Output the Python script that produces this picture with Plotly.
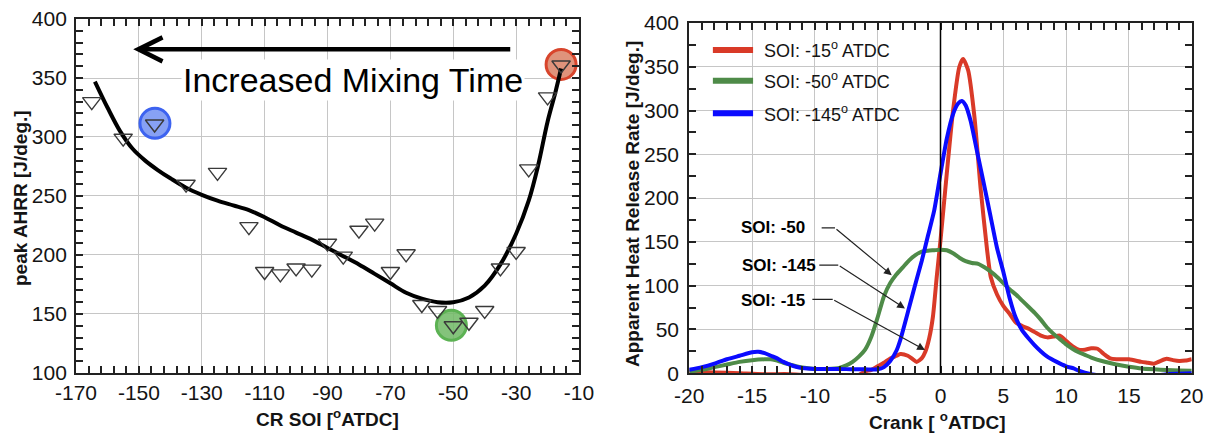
import plotly.graph_objects as go

# ---------------- Left panel data ----------------
soi = [-165, -155, -145, -135, -125, -115, -110, -105, -100, -95, -90, -85, -80,
       -75, -70, -65, -60, -55, -50, -45, -40, -35, -30, -26, -20, -15.7]
peak_ahrr = [330, 299, 311, 260, 270, 224, 186, 184, 189, 188, 210, 199, 221,
             227, 186, 201, 158, 153, 140, 143, 153, 189, 203, 273, 334, 361]

fit_soi = [-164, -160, -156, -152, -148, -144, -140, -135, -130, -125, -120, -115,
           -110, -105, -100, -95, -90, -85, -80, -75, -70, -65, -60, -55, -50,
           -45, -40, -35, -30, -26, -23, -20, -17.5, -15.7]
fit_ahrr = [347, 325, 305, 290, 280, 272, 265, 257, 251, 246, 242, 238,
            232, 225, 219, 213, 206, 199, 192, 184, 176, 168, 163, 160, 160,
            164, 174, 192, 218, 246, 276, 313, 338, 358]

hl_soi = [-144.9, -50.6, -15.7]
hl_ahrr = [311.6, 140.4, 361.5]
hl_fill = ["rgba(95,130,240,0.75)", "rgba(110,185,100,0.85)", "rgba(215,120,90,0.8)"]
hl_line = ["#3d63f0", "#5cb253", "#d8452c"]

left_xticks = [-170, -150, -130, -110, -90, -70, -50, -30, -10]
left_xtick_text = ["-170", "-150", "-130", "-110", "-90", "-70", "-50", "-30", "-10"]
left_yticks = [100, 150, 200, 250, 300, 350, 400]

mixing_text = "Increased Mixing Time"

# ---------------- Right panel data ----------------
series_names = ["SOI: -15<sup>o</sup> ATDC", "SOI: -50<sup>o</sup> ATDC", "SOI: -145<sup>o</sup> ATDC"]
series_colors = ["#d93a28", "#4e8b48", "#0b0bff"]

right_xticks = [-20, -15, -10, -5, 0, 5, 10, 15, 20]
right_xtick_text = ["-20", "-15", "-10", "-5", "0", "5", "10", "15", "20"]
right_yticks = [0, 50, 100, 150, 200, 250, 300, 350, 400]

crank_red = [-20, -18, -16, -14, -12, -11, -10, -9, -8, -7, -6.5, -6, -5.5, -5, -4.5, -4,
             -3.5, -3.2, -2.6, -2.2, -1.9, -1.5, -1.2, -0.9, -0.6, -0.3, 0, 0.5, 1, 1.5,
             1.8, 2.2, 2.7, 3.2, 3.7, 4, 4.5, 5, 5.5, 6, 6.5, 7, 7.5, 8, 8.5, 9, 9.5, 10,
             10.5, 11, 11.5, 12, 12.5, 13, 13.5, 14, 15, 16, 16.5, 17, 17.5, 18, 18.5,
             19, 19.5, 20]
hrr_red = [2, 1, 0, -1, -1, -2, -4, -6, -7, -5, -2, 2, 4, 8, 12, 17,
           20, 22, 20, 16, 13, 17, 25, 40, 65, 110, 152, 228, 300, 350,
           359, 346, 293, 210, 142, 110, 90, 77, 68, 58, 54, 51, 47, 43, 41, 42, 43, 37,
           31, 27, 27, 28.5, 28, 22, 17, 16, 16, 13, 12, 11, 14, 16.5, 15,
           14, 14.5, 16]

crank_green = [-20, -19, -18, -17, -16, -15, -14, -13.5, -13, -12.5, -12, -11.5, -11, -10,
               -9, -8, -7.5, -7, -6.5, -6, -5.5, -5, -4.5, -4, -3.5, -3, -2.5, -2, -1.5,
               -1, -0.5, 0, 0.5, 1, 1.5, 2, 2.5, 3, 3.5, 4, 4.5, 5, 5.5, 6, 6.5, 7, 7.5,
               8, 8.5, 9, 9.5, 10, 10.5, 11, 11.5, 12, 13, 14, 15, 16, 17, 18, 19, 20]
hrr_green = [2, 4, 7, 10, 13, 15, 16, 16, 14.5, 12, 10, 8, 6.5, 5,
             5, 6.5, 9, 13, 19, 27, 42, 64, 88, 103, 113, 121, 129, 135, 139,
             140, 140.5, 141, 140.5, 137, 132, 128, 126, 125, 121, 116, 110, 103, 96, 90, 83, 76, 69,
             61, 52, 45, 39, 33, 28, 24, 21, 18, 13.5, 10, 7.5, 5.5, 4.5, 3.8, 3.2, 3]

crank_blue = [-20, -19, -18, -17, -16, -15, -14.5, -14, -13.5, -13, -12.5, -12, -11.5, -11,
              -10, -9, -8, -7, -6, -5, -4.5, -4, -3.5, -3.2, -2.5, -2, -1.5, -1, -0.5, 0,
              0.5, 1, 1.4, 1.7, 2, 2.4, 2.9, 3.4, 4, 4.5, 5, 5.5, 6, 6.5, 7, 7.5, 8, 8.5,
              9.25, 10, 10.6, 11, 12, 13, 14, 15, 16, 17, 18, 19, 20]
hrr_blue = [4, 7, 11, 16, 20, 24, 24.5, 23, 20, 17, 13, 10, 7.5, 6,
            5, 5, 5, 4.5, 4.5, 4.5, 7, 14, 26, 38, 75, 102, 128, 157, 186, 228,
            268, 296, 308, 311, 306, 288, 254, 220, 178, 143, 116, 86, 63, 49, 40, 32, 25, 19,
            13, 8, 5.5, 3, -1, -3, -5, -6, -5, -3, -1, -0.5, 0]

callout_labels = ["SOI: -50", "SOI: -145", "SOI: -15"]

FONT = "Liberation Sans, Arial, sans-serif"
INK = "#141414"

fig = go.Figure()

# Left panel traces
fig.add_trace(go.Scatter(x=hl_soi, y=hl_ahrr, mode="markers", xaxis="x", yaxis="y",
                         marker=dict(symbol="circle", size=30, color=hl_fill,
                                     line=dict(color=hl_line, width=3)),
                         showlegend=False, hoverinfo="skip"))
fig.add_trace(go.Scatter(x=fit_soi, y=fit_ahrr, mode="lines", xaxis="x", yaxis="y",
                         line=dict(color="black", width=4, shape="spline", smoothing=1.0),
                         showlegend=False))
fig.add_trace(go.Scatter(x=soi, y=peak_ahrr, mode="markers", xaxis="x", yaxis="y",
                         marker=dict(symbol="triangle-down-open", size=16,
                                     color="#3a3a3a", line=dict(color="#3a3a3a", width=1.4)),
                         showlegend=False))

# Right panel traces
for cx, cy, nm, col in [(crank_red, hrr_red, series_names[0], series_colors[0]),
                        (crank_green, hrr_green, series_names[1], series_colors[1]),
                        (crank_blue, hrr_blue, series_names[2], series_colors[2])]:
    fig.add_trace(go.Scatter(x=cx, y=cy, mode="lines", name=nm, xaxis="x2", yaxis="y2",
                             line=dict(color=col, width=4, shape="spline", smoothing=0.6),
                             showlegend=False))

axis_common = dict(showgrid=True, gridcolor="#c6c6c6", gridwidth=1.3, zeroline=False,
                   showline=True, linecolor="#222", linewidth=2, mirror="allticks",
                   ticks="inside", ticklen=7, tickwidth=1.5, tickcolor="#222",
                   automargin=False,
                   tickfont=dict(family=FONT, size=21, color=INK))

fig.update_layout(
    width=1205, height=437,
    margin=dict(l=0, r=0, t=0, b=0, pad=0, autoexpand=False),
    paper_bgcolor="white", plot_bgcolor="white",
    font=dict(family=FONT, color=INK),
    xaxis=dict(domain=[0.0631, 0.4805], range=[-170, -10], tickmode="array",
               tickvals=left_xticks, ticktext=left_xtick_text, ticklabelstandoff=0,
               minor=dict(dtick=4, tick0=-170, ticks="inside", ticklen=7, tickwidth=1.5,
                          tickcolor="#222", showgrid=False),
               **axis_common),
    yaxis=dict(domain=[0.1465, 0.9565], range=[100, 400], tickmode="array",
               tickvals=left_yticks, ticklabelstandoff=3,
               minor=dict(dtick=10, tick0=100, ticks="inside", ticklen=7, tickwidth=1.5,
                          tickcolor="#222", showgrid=False),
               **axis_common),
    xaxis2=dict(domain=[0.572, 0.989], range=[-20, 20], tickmode="array",
                tickvals=right_xticks, ticktext=right_xtick_text, anchor="y2",
                ticklabelstandoff=3,
                minor=dict(dtick=1, tick0=-20, ticks="inside", ticklen=7, tickwidth=1.5,
                           tickcolor="#222", showgrid=False),
                **axis_common),
    yaxis2=dict(domain=[0.1458, 0.9474], range=[0, 400], tickmode="array",
                tickvals=right_yticks, anchor="x2", ticklabelstandoff=4,
                minor=dict(dtick=25, tick0=0, ticks="inside", ticklen=7, tickwidth=1.5,
                           tickcolor="#222", showgrid=False),
                **axis_common),
)

shapes = []
annotations = []

# vertical reference line at TDC
shapes.append(dict(type="line", xref="x2", yref="y2 domain", x0=0, x1=0, y0=0, y1=1,
                   line=dict(color="black", width=1.5)))

# manual legend
leg_y = [0.923, 0.835, 0.742]
for nm, col, yy in zip(series_names, series_colors, leg_y):
    shapes.append(dict(type="line", xref="x2 domain", yref="y2 domain",
                       x0=0.047, x1=0.127, y0=yy, y1=yy, line=dict(color=col, width=6)))
    annotations.append(dict(xref="x2 domain", yref="y2 domain", x=0.1447, y=yy,
                            xanchor="left", yanchor="middle", showarrow=False, text=nm,
                            font=dict(family=FONT, size=18, color=INK)))

# callouts with elbow arrows
callout_text_pos = [(-10.63, 166.8), (-9.76, 123.5), (-10.63, 83.6)]
callout_elbow = [((-9.46, 166), (-8.40, 166)), ((-9.65, 123.5), (-8.14, 123.5)),
                 ((-10.2, 84.4), (-8.58, 84.4))]
callout_tip = [(-3.88, 112), (-2.83, 74), (-1.24, 26.6)]
for lab, tp, el, tip in zip(callout_labels, callout_text_pos, callout_elbow, callout_tip):
    annotations.append(dict(xref="x2", yref="y2", x=tp[0], y=tp[1], xanchor="right",
                            yanchor="middle", showarrow=False, text=lab,
                            font=dict(family=FONT, size=17, color="black", weight="bold")))
    shapes.append(dict(type="line", xref="x2", yref="y2", x0=el[0][0], y0=el[0][1],
                       x1=el[1][0], y1=el[1][1], line=dict(color="#222", width=1.2)))
    annotations.append(dict(xref="x2", yref="y2", x=tip[0], y=tip[1], axref="x2",
                            ayref="y2", ax=el[1][0], ay=el[1][1], text="", showarrow=True,
                            arrowhead=2, arrowsize=1.3, arrowwidth=1.2, arrowcolor="#222"))

# Increased Mixing Time text and arrow
annotations.append(dict(xref="x", yref="y", x=-81.9, y=348.3, text=mixing_text,
                        xanchor="center", yanchor="middle",
                        showarrow=False, bgcolor="white",
                        font=dict(family=FONT, size=34, color="black")))
annotations.append(dict(xref="x", yref="y", x=-151.8, y=374.3, axref="x", ayref="y",
                        ax=-31.4, ay=374.3, text="", showarrow=True, arrowhead=5,
                        arrowsize=1.05, arrowwidth=4.5, arrowcolor="black"))

# axis titles
title_font = dict(family=FONT, size=19, color=INK, weight="bold")
annotations += [
    dict(xref="paper", yref="paper", x=20 / 1205, y=1 - 198 / 437, textangle=-90,
         xanchor="center", yanchor="middle",
         text="peak AHRR [J/deg.]", showarrow=False, font=title_font),
    dict(xref="paper", yref="paper", x=327 / 1205, y=1 - 418 / 437,
         xanchor="center", yanchor="middle",
         text="CR SOI [<sup>o</sup>ATDC]", showarrow=False, font=title_font),
    dict(xref="paper", yref="paper", x=632 / 1205, y=1 - 204 / 437, textangle=-90,
         xanchor="center", yanchor="middle",
         text="Apparent Heat Release Rate [J/deg.]", showarrow=False, font=title_font),
    dict(xref="paper", yref="paper", x=937 / 1205, y=1 - 421 / 437,
         xanchor="center", yanchor="middle",
         text="Crank [ <sup>o</sup>ATDC]", showarrow=False, font=title_font),
]

fig.update_layout(shapes=shapes, annotations=annotations)
fig.write_html("out.html")
